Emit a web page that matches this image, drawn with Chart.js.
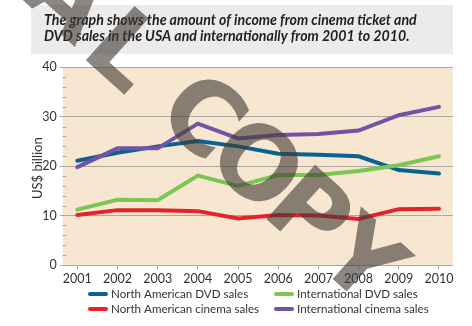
<!DOCTYPE html>
<html>
<head>
<meta charset="utf-8">
<script src="https://cdn.jsdelivr.net/npm/chart.js@4/dist/chart.umd.min.js"></script>
<style>
  html, body { margin: 0; padding: 0; background: #ffffff; }
  canvas { display: block; }
</style>
</head>
<body>
<canvas id="c" width="472" height="326"></canvas>
<script>
// Income from cinema tickets and DVD sales, US$ billion
const years = [2001, 2002, 2003, 2004, 2005, 2006, 2007, 2008, 2009, 2010];
const naDvdSales      = [21.1, 22.7, 24.0, 25.1, 24.0, 22.5, 22.3, 22.0, 19.2, 18.5];
const naCinemaSales   = [10.1, 11.1, 11.1, 10.9, 9.4, 10.1, 10.0, 9.3, 11.3, 11.4];
const intDvdSales     = [11.2, 13.2, 13.1, 18.1, 16.0, 18.2, 18.2, 19.0, 20.2, 22.0];
const intCinemaSales  = [19.8, 23.6, 23.6, 28.6, 25.6, 26.3, 26.5, 27.2, 30.3, 32.0];
const yTicks = [0, 10, 20, 30, 40];
const seriesNames = ['North American DVD sales', 'North American cinema sales',
                     'International DVD sales', 'International cinema sales'];
const titleLines = ['The graph shows the amount of income from cinema ticket and',
                    'DVD sales in the USA and internationally from 2001 to 2010.'];
const yAxisTitle = 'US$ billion';
const stampLetters = ['A', 'L', 'C', 'O', 'P', 'Y'];

const COLORS = ['#0b6190', '#e8212b', '#7cc653', '#7254a6'];
const GRID = '#aca79f';
const TEXT = '#333333';
const FONT = 'Lato, "Open Sans", sans-serif';

const toPoints = vals => years.map((yr, i) => ({ x: yr, y: vals[i] }));
const seriesValues = [naDvdSales, naCinemaSales, intDvdSales, intCinemaSales];
const drawOrder = [4, 3, 2, 1];

const decorations = {
  id: 'decorations',
  beforeDraw(chart) {
    const ctx = chart.ctx;
    const a = chart.chartArea;
    ctx.save();
    // heading box
    ctx.fillStyle = '#ebebeb';
    ctx.fillRect(31, 5, 422, 49);
    ctx.fillStyle = '#231f20';
    ctx.textBaseline = 'alphabetic';
    ctx.textAlign = 'left';
    ctx.font = 'italic bold 13px ' + FONT;
    const w = ctx.measureText(titleLines[0]).width;
    const size = 13 * 373 / w;
    ctx.font = 'italic bold ' + size.toFixed(2) + 'px ' + FONT;
    ctx.fillText(titleLines[0], 44, 25);
    ctx.fillText(titleLines[1], 44, 41);
    // plot background
    ctx.fillStyle = '#f8e7d0';
    ctx.fillRect(a.left, a.top, a.right - a.left, a.bottom - a.top);
    ctx.restore();
  },
  beforeDatasetsDraw(chart) {
    const ctx = chart.ctx;
    const a = chart.chartArea;
    const ys = chart.scales.y;
    ctx.save();
    // minor ticks every 2 units inside the left edge
    ctx.strokeStyle = GRID;
    ctx.lineWidth = 1;
    for (let v = 2; v < 40; v += 2) {
      if (v % 10 === 0) continue;
      const py = Math.round(ys.getPixelForValue(v)) + 0.5;
      ctx.beginPath();
      ctx.moveTo(a.left, py);
      ctx.lineTo(a.left + 3.5, py);
      ctx.stroke();
    }
    ctx.restore();
  },
  afterDraw(chart) {
    const ctx = chart.ctx;
    const a = chart.chartArea;
    ctx.save();
    // y axis title
    ctx.fillStyle = TEXT;
    ctx.font = '13px ' + FONT;
    ctx.textAlign = 'center';
    ctx.textBaseline = 'middle';
    ctx.translate(37.5, (a.top + a.bottom) / 2 + 2);
    ctx.rotate(-Math.PI / 2);
    ctx.fillText(yAxisTitle, 0, 0);
    ctx.restore();

    // legend, two columns
    ctx.save();
    ctx.font = '11.6px ' + FONT;
    ctx.textBaseline = 'middle';
    ctx.textAlign = 'left';
    const cols = [88, 274];
    const rows = [294, 309];
    const slots = [[0, 0], [0, 1], [1, 0], [1, 1]];
    seriesNames.forEach((name, i) => {
      const x = cols[slots[i][0]];
      const y = rows[slots[i][1]];
      ctx.strokeStyle = COLORS[i];
      ctx.lineWidth = 4;
      ctx.lineCap = 'round';
      ctx.beginPath();
      ctx.moveTo(x + 2, y);
      ctx.lineTo(x + 18, y);
      ctx.stroke();
      ctx.fillStyle = TEXT;
      ctx.fillText(name, x + 23, y);
    });
    ctx.restore();

    // diagonal stamp
    ctx.save();
    ctx.fillStyle = 'rgba(66, 60, 54, 0.62)';
    ctx.font = 'bold 100px "DejaVu Sans", sans-serif';
    ctx.textAlign = 'center';
    ctx.textBaseline = 'middle';
    const angle = 42 * Math.PI / 180;
    const centers = [[64, 2], [120, 56], [198, 122], [252, 170], [304, 218], [357, 266]];
    stampLetters.forEach((ch, i) => {
      ctx.save();
      ctx.translate(centers[i][0], centers[i][1]);
      ctx.rotate(angle);
      ctx.fillText(ch, 0, 0);
      ctx.restore();
    });
    ctx.restore();
  }
};

new Chart(document.getElementById('c'), {
  type: 'line',
  data: {
    datasets: seriesValues.map((vals, i) => ({
      label: seriesNames[i],
      data: toPoints(vals),
      borderColor: COLORS[i],
      backgroundColor: COLORS[i],
      borderWidth: 4,
      borderCapStyle: 'round',
      borderJoinStyle: 'miter',
      pointRadius: 0,
      tension: 0,
      fill: false,
      order: drawOrder[i]
    }))
  },
  options: {
    responsive: false,
    devicePixelRatio: 1,
    animation: false,
    layout: { padding: { left: 0, right: 19.3, top: 67.3, bottom: 0 } },
    plugins: { legend: { display: false }, title: { display: false }, tooltip: { enabled: false } },
    scales: {
      x: {
        type: 'linear',
        min: 2000.637,
        max: 2010.341,
        afterBuildTicks: s => { s.ticks = years.map(v => ({ value: v })); },
        afterFit: s => { s.height = 61; },
        grid: { display: true, drawOnChartArea: false, color: GRID, tickLength: 4, lineWidth: 1 },
        border: { display: true, color: GRID, width: 1 },
        ticks: {
          autoSkip: false, maxRotation: 0, padding: 2,
          color: TEXT, font: { family: FONT, size: 12.5 },
          callback: v => String(v)
        }
      },
      y: {
        min: 0,
        max: 40,
        afterBuildTicks: s => { s.ticks = yTicks.map(v => ({ value: v })); },
        afterFit: s => { s.width = 62.7; },
        grid: { color: GRID, tickLength: 3, lineWidth: 1 },
        border: { display: false },
        ticks: { padding: 3, color: TEXT, font: { family: FONT, size: 12.5 } }
      }
    }
  },
  plugins: [decorations]
});
</script>
</body>
</html>
